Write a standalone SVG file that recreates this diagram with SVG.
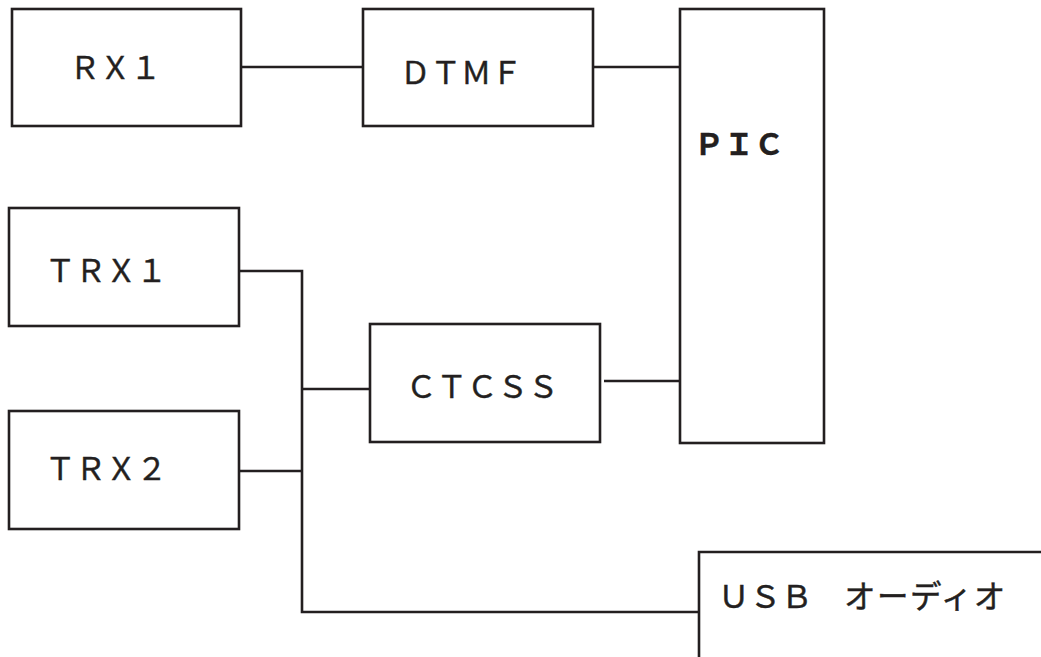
<svg xmlns="http://www.w3.org/2000/svg" width="1041" height="657" viewBox="0 0 1041 657">
<style>
.box{fill:#fff;stroke:#231f20;stroke-width:2.6}
.ln{fill:none;stroke:#231f20;stroke-width:2.6}
.t{font-family:"Noto Sans CJK JP","Noto Sans",sans-serif;font-size:30.5px;fill:#231f20;stroke:#231f20;stroke-width:0.45}
.b{font-family:"Noto Sans CJK JP","Noto Sans",sans-serif;font-size:30px;font-weight:bold;fill:#231f20;stroke:#231f20;stroke-width:0.3}
</style>
<rect width="1041" height="657" fill="#fff"/>
<g id="connectors">
<path class="ln" d="M241,67 H363"/>
<path class="ln" d="M593,67 H680"/>
<path class="ln" d="M239,271 H302 V612 H699"/>
<path class="ln" d="M237,471 H302"/>
<path class="ln" d="M302,389 H370"/>
<path class="ln" d="M604,381 H680"/>
</g>
<g id="rx1"><rect class="box" x="12" y="9" width="229" height="117"/><text class="t" x="69.5" y="78.5">ＲＸ１</text></g>
<g id="dtmf"><rect class="box" x="363" y="9" width="230" height="117"/><text class="t" x="400" y="83.5">ＤＴＭＦ</text></g>
<g id="pic"><rect class="box" x="680" y="9" width="144" height="434"/><text class="b" x="694" y="155">ＰＩＣ</text></g>
<g id="trx1"><rect class="box" x="9" y="208" width="230" height="118"/><text class="t" x="45" y="281.5">ＴＲＸ１</text></g>
<g id="trx2"><rect class="box" x="9" y="411" width="230" height="118"/><text class="t" x="45" y="479.5">ＴＲＸ２</text></g>
<g id="ctcss"><rect class="box" x="370" y="324" width="230" height="118"/><text class="t" x="406" y="398">ＣＴＣＳＳ</text></g>
<g id="usb"><path class="box" d="M699,670 V552 H1050"/><text class="t" style="font-size:31.5px" x="718" y="608">ＵＳＢ　<tspan style="letter-spacing:1.5px">オーディオ</tspan></text></g>
</svg>
